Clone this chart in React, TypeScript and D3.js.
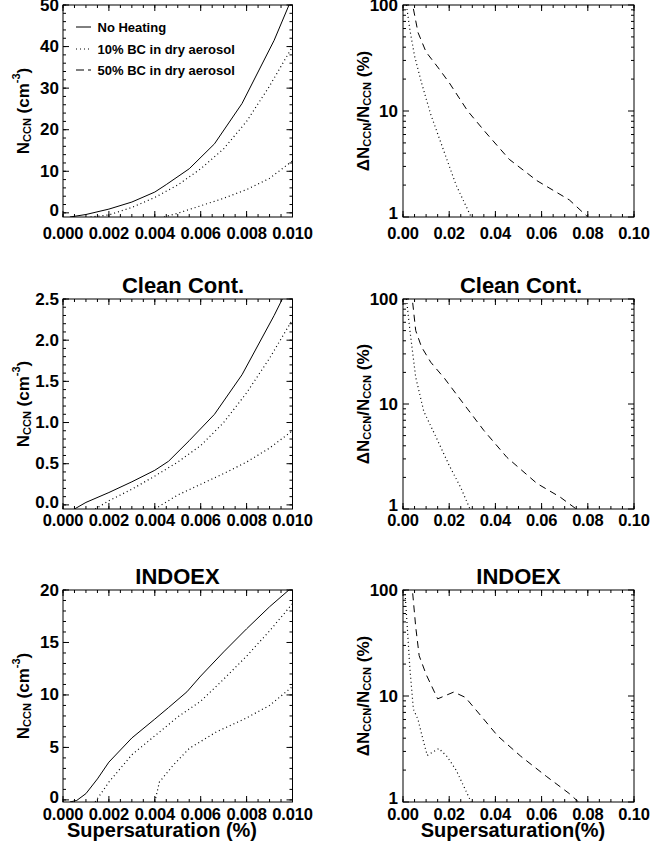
import React from 'react';
import * as d3 from 'd3';

const FONT = "'Liberation Sans', Arial, Helvetica, sans-serif";

// ---------------- DATA ----------------
// Top row (no title)
const topNoHeatS = [0.0003, 0.001, 0.002, 0.003, 0.004, 0.0045, 0.0055, 0.0066, 0.0078, 0.0092, 0.0100];
const topNoHeatN = [-1, -0.4, 0.9, 2.6, 5.0, 6.8, 10.6, 16.6, 26.3, 41.5, 52];
const topBC10S = [0.0012, 0.002, 0.003, 0.004, 0.005, 0.006, 0.007, 0.008, 0.009, 0.010];
const topBC10N = [-1, -0.5, 1.3, 3.7, 6.7, 10.6, 15.4, 22.0, 30.5, 40];
const topBC50S = [0.0044, 0.005, 0.006, 0.007, 0.008, 0.009, 0.010];
const topBC50N = [-1, -0.1, 1.7, 3.5, 5.6, 8.3, 12.5];
const topDiff10S = [0.0015, 0.003, 0.005, 0.008, 0.012, 0.0175, 0.023, 0.0295];
const topDiff10V = [100, 58, 33, 18.5, 9.3, 4.3, 2.0, 1.0];
const topDiff50S = [0.0045, 0.0065, 0.01, 0.015, 0.02, 0.028, 0.036, 0.046, 0.058, 0.072, 0.08];
const topDiff50V = [92, 55, 36, 26, 18.5, 10, 6.2, 3.5, 2.2, 1.45, 1.0];

// Clean Cont.
const cleanNoHeatS = [0.0005, 0.001, 0.002, 0.003, 0.004, 0.0046, 0.0055, 0.0066, 0.0078, 0.0092, 0.0097];
const cleanNoHeatN = [-0.05, 0.03, 0.15, 0.28, 0.42, 0.53, 0.78, 1.1, 1.58, 2.3, 2.58];
const cleanBC10S = [0.0014, 0.002, 0.003, 0.004, 0.005, 0.006, 0.007, 0.008, 0.009, 0.010];
const cleanBC10N = [-0.05, 0.05, 0.19, 0.35, 0.52, 0.72, 1.0, 1.36, 1.78, 2.25];
const cleanBC50S = [0.004, 0.005, 0.006, 0.007, 0.008, 0.009, 0.010];
const cleanBC50N = [-0.05, 0.12, 0.25, 0.38, 0.52, 0.69, 0.9];
const cleanDiff10S = [0.0015, 0.003, 0.0055, 0.009, 0.014, 0.02, 0.025, 0.029];
const cleanDiff10V = [100, 50, 18, 8.5, 5.0, 2.6, 1.6, 1.0];
const cleanDiff50S = [0.0042, 0.0055, 0.008, 0.012, 0.018, 0.026, 0.035, 0.045, 0.058, 0.068, 0.075];
const cleanDiff50V = [92, 50, 35, 25, 17.5, 10.2, 5.6, 3.1, 1.75, 1.3, 1.0];

// INDOEX
const indoNoHeatS = [0.0003, 0.0006, 0.001, 0.0015, 0.002, 0.003, 0.004, 0.0046, 0.0054, 0.006, 0.007, 0.008, 0.009, 0.010];
const indoNoHeatN = [-0.2, -0.05, 0.6, 2.0, 3.6, 5.9, 7.7, 8.8, 10.3, 11.8, 14.1, 16.3, 18.4, 20.3];
const indoBC10S = [0.0014, 0.002, 0.003, 0.004, 0.005, 0.006, 0.007, 0.008, 0.009, 0.010];
const indoBC10N = [-0.2, 1.7, 4.3, 6.1, 7.9, 9.4, 11.5, 13.7, 16.1, 18.7];
const indoBC50S = [0.004, 0.0042, 0.0048, 0.0055, 0.0067, 0.0079, 0.009, 0.010];
const indoBC50N = [-0.2, 1.7, 3.3, 4.9, 6.5, 7.7, 9.0, 10.8];
const indoDiff10S = [0.0008, 0.002, 0.003, 0.0045, 0.0065, 0.0085, 0.0105, 0.0155, 0.019, 0.023, 0.0295];
const indoDiff10V = [100, 40, 18, 7.5, 6.0, 4.0, 2.75, 3.2, 2.7, 2.0, 1.0];
const indoDiff50S = [0.0042, 0.0055, 0.007, 0.01, 0.015, 0.022, 0.027, 0.034, 0.041, 0.051, 0.062, 0.072, 0.076];
const indoDiff50V = [93, 45, 24, 16, 9.4, 10.9, 9.7, 6.4, 4.2, 2.7, 1.75, 1.2, 1.0];

const legendLabels = ['No Heating', '10% BC in dry aerosol', '50% BC in dry aerosol'];
const panelTitles = ['', 'Clean Cont.', 'INDOEX'];
const leftXTicks = [0, 0.002, 0.004, 0.006, 0.008, 0.010];
const rightXTicks = [0, 0.02, 0.04, 0.06, 0.08, 0.10];
const rightYTicks = [1, 10, 100];
const leftYTicksTop = [0, 10, 20, 30, 40, 50];
const leftYTicksClean = [0, 0.5, 1.0, 1.5, 2.0, 2.5];
const leftYTicksIndo = [0, 5, 10, 15, 20];

// ---------------- LAYOUT ----------------
const W = 665, H = 844;
const LX0 = 63, LX1 = 292.5, RX0 = 403, RX1 = 634;
const ROWS = [
  { y0: 5, y1: 217, labDy: 16 },
  { y0: 299, y1: 509, labDy: 11 },
  { y0: 590, y1: 802, labDy: 11.5 },
];
const DOT = '1,3';
const DASH = '7,5';
const MAJ = 6, MIN = 3;
const TICK_FS = 16.5;

type S = { s: number[]; v: number[]; dash: string | null };

const leftRows = [
  { domain: [-1, 50], ticks: leftYTicksTop, minorStep: 2, fmt: d3.format('d'),
    series: [
      { s: topNoHeatS, v: topNoHeatN, dash: null },
      { s: topBC10S, v: topBC10N, dash: DOT },
      { s: topBC50S, v: topBC50N, dash: DOT },
    ] as S[] },
  { domain: [-0.05, 2.5], ticks: leftYTicksClean, minorStep: 0.1, fmt: d3.format('.1f'),
    series: [
      { s: cleanNoHeatS, v: cleanNoHeatN, dash: null },
      { s: cleanBC10S, v: cleanBC10N, dash: DOT },
      { s: cleanBC50S, v: cleanBC50N, dash: DOT },
    ] as S[] },
  { domain: [-0.2, 20], ticks: leftYTicksIndo, minorStep: 1, fmt: d3.format('d'),
    series: [
      { s: indoNoHeatS, v: indoNoHeatN, dash: null },
      { s: indoBC10S, v: indoBC10N, dash: DOT },
      { s: indoBC50S, v: indoBC50N, dash: DOT },
    ] as S[] },
];
const rightRows = [
  [{ s: topDiff10S, v: topDiff10V, dash: DOT }, { s: topDiff50S, v: topDiff50V, dash: DASH }] as S[],
  [{ s: cleanDiff10S, v: cleanDiff10V, dash: DOT }, { s: cleanDiff50S, v: cleanDiff50V, dash: DASH }] as S[],
  [{ s: indoDiff10S, v: indoDiff10V, dash: DOT }, { s: indoDiff50S, v: indoDiff50V, dash: DASH }] as S[],
];
const titleCentersL = [0, 183, 177.5];
const titleCentersR = [0, 521, 518.5];

function range(a: number, b: number, step: number) {
  const out: number[] = [];
  const n = Math.round((b - a) / step);
  for (let i = 0; i <= n; i++) out.push(a + i * step);
  return out;
}

function Frame({ x, y, xMajor, xMinor, yMajor, yMinor }: any) {
  const [x0, x1] = x.range();
  const [y1, y0] = y.range();
  const segs: any[] = [];
  xMinor.forEach((t: number, i: number) => {
    const px = x(t);
    segs.push(<line key={'xm' + i} x1={px} x2={px} y1={y1} y2={y1 - MIN} />);
    segs.push(<line key={'xmt' + i} x1={px} x2={px} y1={y0} y2={y0 + MIN} />);
  });
  xMajor.forEach((t: number, i: number) => {
    const px = x(t);
    segs.push(<line key={'xM' + i} x1={px} x2={px} y1={y1} y2={y1 - MAJ} />);
    segs.push(<line key={'xMt' + i} x1={px} x2={px} y1={y0} y2={y0 + MAJ} />);
  });
  yMinor.forEach((t: number, i: number) => {
    const py = y(t);
    segs.push(<line key={'ym' + i} x1={x0} x2={x0 + MIN} y1={py} y2={py} />);
    segs.push(<line key={'ymr' + i} x1={x1} x2={x1 - MIN} y1={py} y2={py} />);
  });
  yMajor.forEach((t: number, i: number) => {
    const py = y(t);
    segs.push(<line key={'yM' + i} x1={x0} x2={x0 + MAJ} y1={py} y2={py} />);
    segs.push(<line key={'yMr' + i} x1={x1} x2={x1 - MAJ} y1={py} y2={py} />);
  });
  return (
    <g stroke="#000" strokeWidth={1} fill="none">
      {segs}
      <rect x={x0} y={y0} width={x1 - x0} height={y1 - y0} />
    </g>
  );
}

function Lines({ series, x, y, clipId }: any) {
  return (
    <g clipPath={`url(#${clipId})`} fill="none" stroke="#000" strokeWidth={1}>
      {series.map((sr: S, i: number) => {
        const pts = sr.s.map((s, j) => [s, sr.v[j]] as [number, number]);
        const path = d3.line<[number, number]>().x(d => x(d[0])).y(d => y(d[1]))(pts) || '';
        return <path key={i} d={path} strokeDasharray={sr.dash || undefined} strokeWidth={sr.dash === DOT ? 1.2 : 1} />;
      })}
    </g>
  );
}

function LeftYLabel({ cx, cy }: any) {
  return (
    <text transform={`translate(${cx},${cy}) rotate(-90)`} textAnchor="middle" fontSize={17} fontWeight="bold" fontFamily={FONT} dominantBaseline="central">
      N<tspan fontSize={11} dy={4}>CCN</tspan><tspan dy={-4}> (cm</tspan><tspan fontSize={11} dy={-7}>-3</tspan><tspan dy={7}>)</tspan>
    </text>
  );
}

function RightYLabel({ cx, cy }: any) {
  return (
    <text transform={`translate(${cx},${cy}) rotate(-90)`} textAnchor="middle" fontSize={17} fontWeight="bold" fontFamily={FONT} dominantBaseline="central">
      ΔN<tspan fontSize={11} dy={4}>CCN</tspan><tspan dy={-4}>/N</tspan><tspan fontSize={11} dy={4}>CCN</tspan><tspan dy={-4}> (%)</tspan>
    </text>
  );
}

export default function App() {
  const textProps = { fontFamily: FONT, fontWeight: 'bold' as const, fill: '#000' };
  return (
    <svg width={W} height={H} style={{ position: 'absolute', left: 0, top: 0, background: '#fff' }}>
      <defs>
        {ROWS.map((r, i) => (
          <React.Fragment key={i}>
            <clipPath id={`cl${i}`}><rect x={LX0} y={r.y0} width={LX1 - LX0} height={r.y1 - r.y0} /></clipPath>
            <clipPath id={`cr${i}`}><rect x={RX0} y={r.y0} width={RX1 - RX0} height={r.y1 - r.y0} /></clipPath>
          </React.Fragment>
        ))}
      </defs>
      {ROWS.map((r, i) => {
        const lr = leftRows[i];
        const xL = d3.scaleLinear().domain([0, 0.01]).range([LX0, LX1]);
        const yL = d3.scaleLinear().domain(lr.domain).range([r.y1, r.y0]);
        const xR = d3.scaleLinear().domain([0, 0.1]).range([RX0, RX1]);
        const yR = d3.scaleLog().domain([1, 100]).range([r.y1, r.y0]);
        const lyMinor = range(0, lr.domain[1], lr.minorStep).filter(v => v <= lr.domain[1] + 1e-9);
        const ryMinor = [2, 3, 4, 5, 6, 7, 8, 9, 20, 30, 40, 50, 60, 70, 80, 90];
        const cyL = (r.y0 + r.y1) / 2;
        return (
          <g key={i}>
            {/* left panel */}
            <Lines series={lr.series} x={xL} y={yL} clipId={`cl${i}`} />
            <Frame x={xL} y={yL} xMajor={leftXTicks} xMinor={range(0, 0.01, 0.0005)} yMajor={lr.ticks} yMinor={lyMinor} />
            {leftXTicks.map((t, j) => (
              <text key={'lx' + j} x={xL(t)} y={r.y1 + r.labDy} textAnchor="middle" dominantBaseline="central" fontSize={TICK_FS} letterSpacing={-0.2} {...textProps}>{d3.format('.3f')(t)}</text>
            ))}
            {lr.ticks.map((t, j) => (
              <text key={'ly' + j} x={LX0 - 4} y={yL(t) - (j === 0 ? 2 : 0)} textAnchor="end" dominantBaseline="central" fontSize={TICK_FS + 0.5} {...textProps}>{lr.fmt(t)}</text>
            ))}
            <LeftYLabel cx={23} cy={cyL} />
            {panelTitles[i] && (
              <text x={titleCentersL[i]} y={r.y0 - 14} textAnchor="middle" dominantBaseline="central" fontSize={22} {...textProps}>{panelTitles[i]}</text>
            )}
            {/* right panel */}
            <Lines series={rightRows[i]} x={xR} y={yR} clipId={`cr${i}`} />
            <Frame x={xR} y={yR} xMajor={rightXTicks} xMinor={range(0, 0.1, 0.005)} yMajor={rightYTicks} yMinor={ryMinor} />
            {rightXTicks.map((t, j) => (
              <text key={'rx' + j} x={xR(t)} y={r.y1 + r.labDy} textAnchor="middle" dominantBaseline="central" fontSize={TICK_FS} letterSpacing={-0.2} {...textProps}>{d3.format('.2f')(t)}</text>
            ))}
            {rightYTicks.map((t, j) => (
              <text key={'ry' + j} x={RX0 - 5} y={yR(t) - (t === 1 ? 4 : 0)} textAnchor="end" dominantBaseline="central" fontSize={TICK_FS + 0.5} {...textProps}>{String(t)}</text>
            ))}
            <RightYLabel cx={363} cy={cyL} />
            {panelTitles[i] && (
              <text x={titleCentersR[i]} y={r.y0 - 14} textAnchor="middle" dominantBaseline="central" fontSize={22} {...textProps}>{panelTitles[i]}</text>
            )}
          </g>
        );
      })}
      {/* legend */}
      <g fontFamily={FONT} fontWeight="bold" fontSize={13}>
        {legendLabels.map((lab, i) => {
          const ly = [27, 49, 70][i];
          const dash = [null, DOT, '8,4'][i];
          return (
            <g key={i}>
              <line x1={76} x2={91} y1={ly} y2={ly} stroke="#000" strokeWidth={1} strokeDasharray={dash || undefined} />
              <text x={97.5} y={ly} dominantBaseline="central">{lab}</text>
            </g>
          );
        })}
      </g>
      <text x={162} y={830} textAnchor="middle" dominantBaseline="central" fontSize={20} {...textProps}>Supersaturation (%)</text>
      <text x={513} y={830} textAnchor="middle" dominantBaseline="central" fontSize={20} {...textProps}>Supersaturation(%)</text>
    </svg>
  );
}
